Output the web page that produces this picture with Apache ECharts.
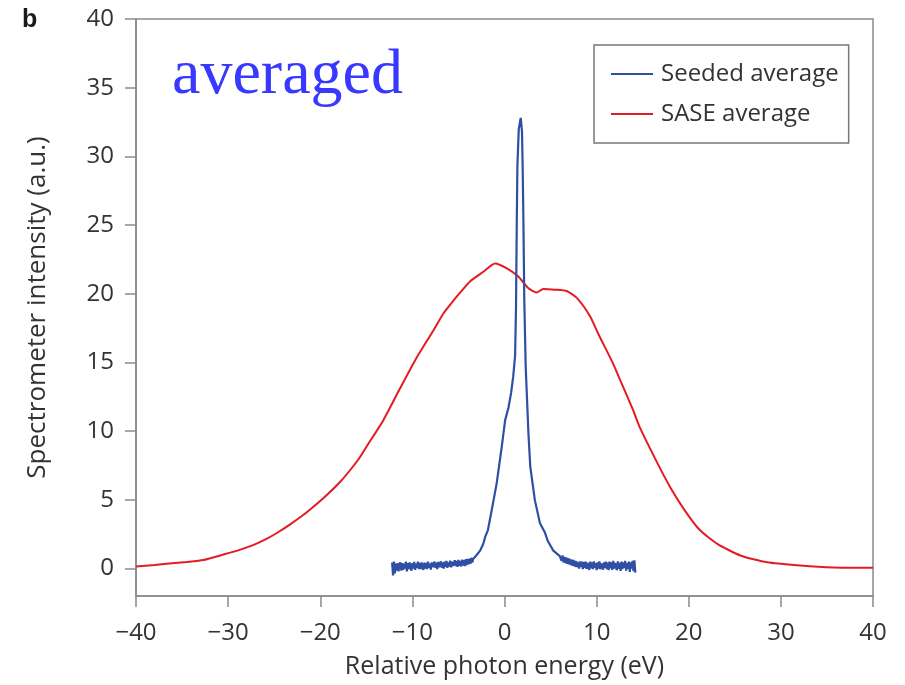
<!DOCTYPE html>
<html>
<head>
<meta charset="utf-8">
<script src="https://cdn.jsdelivr.net/npm/echarts@6/dist/echarts.min.js"></script>
<style>
  html, body { margin: 0; padding: 0; background: #fff; }
  #chart { width: 905px; height: 685px; }
</style>
</head>
<body>
<div id="chart"></div>
<script>
// Axis ticks
const xTicks = [-40, -30, -20, -10, 0, 10, 20, 30, 40];
const yTicks = [0, 5, 10, 15, 20, 25, 30, 35, 40];

// SASE average spectrum: [energy (eV), intensity (a.u.)]
const saseAverage = [
  [-40, 0.15], [-38, 0.25], [-36.4, 0.36], [-34.5, 0.48], [-32.7, 0.62], [-30.6, 1.0],
  [-29, 1.3], [-27.3, 1.7], [-26, 2.1], [-24.8, 2.55], [-23.3, 3.2], [-22, 3.82],
  [-21.1, 4.3], [-19.7, 5.1], [-17.85, 6.3], [-15.9, 7.9], [-15.0, 8.85], [-13.15, 10.8],
  [-11.35, 13.1], [-9.5, 15.4], [-7.7, 17.35], [-6.6, 18.6], [-5.55, 19.5], [-4.8, 20.1],
  [-3.75, 20.9], [-2.3, 21.6], [-1.03, 22.2], [0.25, 21.85], [1.5, 21.25], [2.6, 20.4],
  [3.5, 20.1], [4.2, 20.35], [5.5, 20.3], [6.75, 20.2], [7.85, 19.7], [9.3, 18.35],
  [10.2, 17.05], [11.8, 14.9], [12.5, 13.8], [13.95, 11.55], [14.7, 10.25], [16.5, 7.8],
  [18.0, 5.9], [19.6, 4.2], [21.2, 2.8], [23.1, 1.8], [25.6, 0.95], [28.5, 0.45],
  [32.1, 0.22], [35.7, 0.08], [40, 0.05]
];

// Seeded average: low-energy baseline, sampled every 0.1 eV from -12.2 eV
const seededLowStart = -12.2;
const seededLowBase = [
  0.45, -0.5, 0.5, -0.35, 0.35, -0.15, 0.4, -0.2, 0.3, 0.45,
  -0.15, 0.4, -0.1, 0.35, 0.0, 0.5, -0.2, 0.4, -0.05, 0.45,
  0.05, -0.15, 0.4, 0.0, 0.48, -0.1, 0.35, 0.05, 0.5, -0.05,
  0.4, -0.05, 0.45, 0.1, -0.1, 0.42, 0.0, 0.4, -0.05, 0.5,
  0.05, 0.35, -0.08, 0.45, 0.1, -0.02, 0.5, 0.05, 0.42, -0.05,
  0.48, 0.1, 0.02, 0.52, 0.05, 0.45, 0.0, 0.5, 0.12, 0.55,
  0.05, 0.45, 0.15, 0.58, 0.08, 0.5, 0.2, 0.1, 0.6, 0.18,
  0.55, 0.12, 0.62, 0.2, 0.55, 0.15, 0.65, 0.22, 0.6, 0.18,
  0.68, 0.25, 0.7, 0.3, 0.72, 0.35, 0.78, 0.45
];

// Seeded average: central line [energy (eV), intensity (a.u.)]
const seededPeak = [
  [-3.4, 0.7], [-3.0, 1.0], [-2.65, 1.3], [-2.3, 1.8], [-2.1, 2.3], [-1.8, 2.8],
  [-1.4, 4.2], [-0.85, 6.2], [-0.3, 8.85], [0.07, 10.8], [0.43, 11.7], [0.72, 12.8],
  [0.95, 14.0], [1.15, 15.5], [1.25, 19], [1.33, 25], [1.40, 29.3], [1.55, 32.0],
  [1.76, 32.8], [1.9, 31.8], [1.97, 29.3], [2.05, 25.4], [2.15, 19.5], [2.3, 14.7],
  [2.45, 12.25], [2.6, 9.8], [2.8, 7.4], [3.3, 4.96], [3.85, 3.3], [4.4, 2.6],
  [4.7, 2.0], [5.3, 1.3], [6.0, 0.9]
];

// Seeded average: high-energy baseline, sampled every 0.1 eV from 6.1 eV
const seededHighStart = 6.1;
const seededHighBase = [
  1.0, 0.55, 0.95, 0.45, 0.85, 0.4, 0.8, 0.35, 0.75, 0.3,
  0.7, 0.25, 0.65, 0.2, 0.62, 0.15, 0.55, 0.1, 0.5, 0.2,
  0.0, 0.52, 0.12, 0.5, -0.05, 0.48, 0.05, 0.5, -0.02, 0.42,
  0.1, -0.1, 0.5, 0.02, 0.45, -0.05, 0.52, 0.05, 0.4, -0.12,
  0.45, 0.0, 0.52, -0.05, 0.38, 0.48, -0.08, 0.45, 0.05, 0.5,
  -0.05, 0.42, -0.12, 0.5, 0.02, 0.45, -0.1, 0.55, 0.0, 0.4,
  0.48, -0.12, 0.52, -0.02, 0.42, -0.18, 0.5, -0.05, 0.45, 0.05,
  0.55, -0.15, 0.4, -0.02, 0.5, -0.25, 0.45, 0.0, 0.55, -0.2,
  0.6, -0.3
];

const sampleStep = 0.1;
const seededAverage = []
  .concat(seededLowBase.map((v, i) => [+(seededLowStart + i * sampleStep).toFixed(2), v]))
  .concat(seededPeak)
  .concat(seededHighBase.map((v, i) => [+(seededHighStart + i * sampleStep).toFixed(2), v]));

const FONT = '"Open Sans", "DejaVu Sans", sans-serif';
const AXIS_GREY = '#8a8a8a';
const TEXT = '#333333';
const minusSign = v => String(v).replace('-', '\u2212');

const chart = echarts.init(document.getElementById('chart'), null, { renderer: 'canvas' });
chart.setOption({
  animation: false,
  backgroundColor: '#ffffff',
  grid: {
    left: 136, right: 32, top: 19, bottom: 89,
    show: true, borderColor: AXIS_GREY, borderWidth: 1.5
  },
  legend: {
    orient: 'vertical',
    left: 594, top: 45,
    padding: [15, 10, 15, 17],
    borderColor: '#777', borderWidth: 1.5,
    itemWidth: 42, itemHeight: 2, itemGap: 12,
    icon: 'rect',
    data: ['Seeded average', 'SASE average'],
    textStyle: { fontFamily: FONT, fontSize: 24, color: TEXT, lineHeight: 28, padding: [0, 0, 0, 3] }
  },
  xAxis: {
    type: 'value', min: -40, max: 40, interval: 10,
    name: 'Relative photon energy (eV)',
    nameLocation: 'middle', nameGap: 58,
    nameTextStyle: { fontFamily: FONT, fontSize: 25, color: TEXT },
    axisLine: { show: true, onZero: false, lineStyle: { color: AXIS_GREY, width: 1.5 } },
    axisTick: { show: true, inside: false, length: 11, lineStyle: { color: AXIS_GREY, width: 1.5 } },
    axisLabel: {
      margin: 25, fontFamily: FONT, fontSize: 24, color: TEXT,
      customValues: xTicks, formatter: minusSign
    },
    splitLine: { show: false }
  },
  yAxis: {
    type: 'value', min: -2, max: 40,
    name: 'Spectrometer intensity (a.u.)',
    nameLocation: 'middle', nameGap: 85, nameRotate: 90,
    nameTextStyle: { fontFamily: FONT, fontSize: 26, color: TEXT },
    axisLine: { show: true, onZero: false, lineStyle: { color: AXIS_GREY, width: 1.5 } },
    axisTick: { show: true, inside: false, length: 11, customValues: yTicks, lineStyle: { color: AXIS_GREY, width: 1.5 } },
    axisLabel: {
      margin: 22, fontFamily: FONT, fontSize: 24, color: TEXT,
      customValues: yTicks, formatter: minusSign
    },
    splitLine: { show: false }
  },
  series: [
    {
      name: 'SASE average', type: 'line', data: saseAverage,
      showSymbol: false, smooth: 0.2, color: '#e31b23',
      lineStyle: { width: 2, color: '#e31b23' }, z: 2
    },
    {
      name: 'Seeded average', type: 'line', data: seededAverage,
      showSymbol: false, color: '#2f4fa5',
      lineStyle: { width: 2.2, color: '#2f4fa5' }, z: 3
    }
  ],
  graphic: [
    {
      type: 'text', left: 22, top: 8,
      style: { text: 'b', font: 'bold 25px "Liberation Sans", Arial, sans-serif', fill: '#1a1a1a' }
    },
    {
      type: 'text', left: 172, top: 44,
      style: { text: 'averaged', font: '64px "Liberation Serif", "Times New Roman", serif', fill: '#3838ff' }
    }
  ]
});
</script>
</body>
</html>
